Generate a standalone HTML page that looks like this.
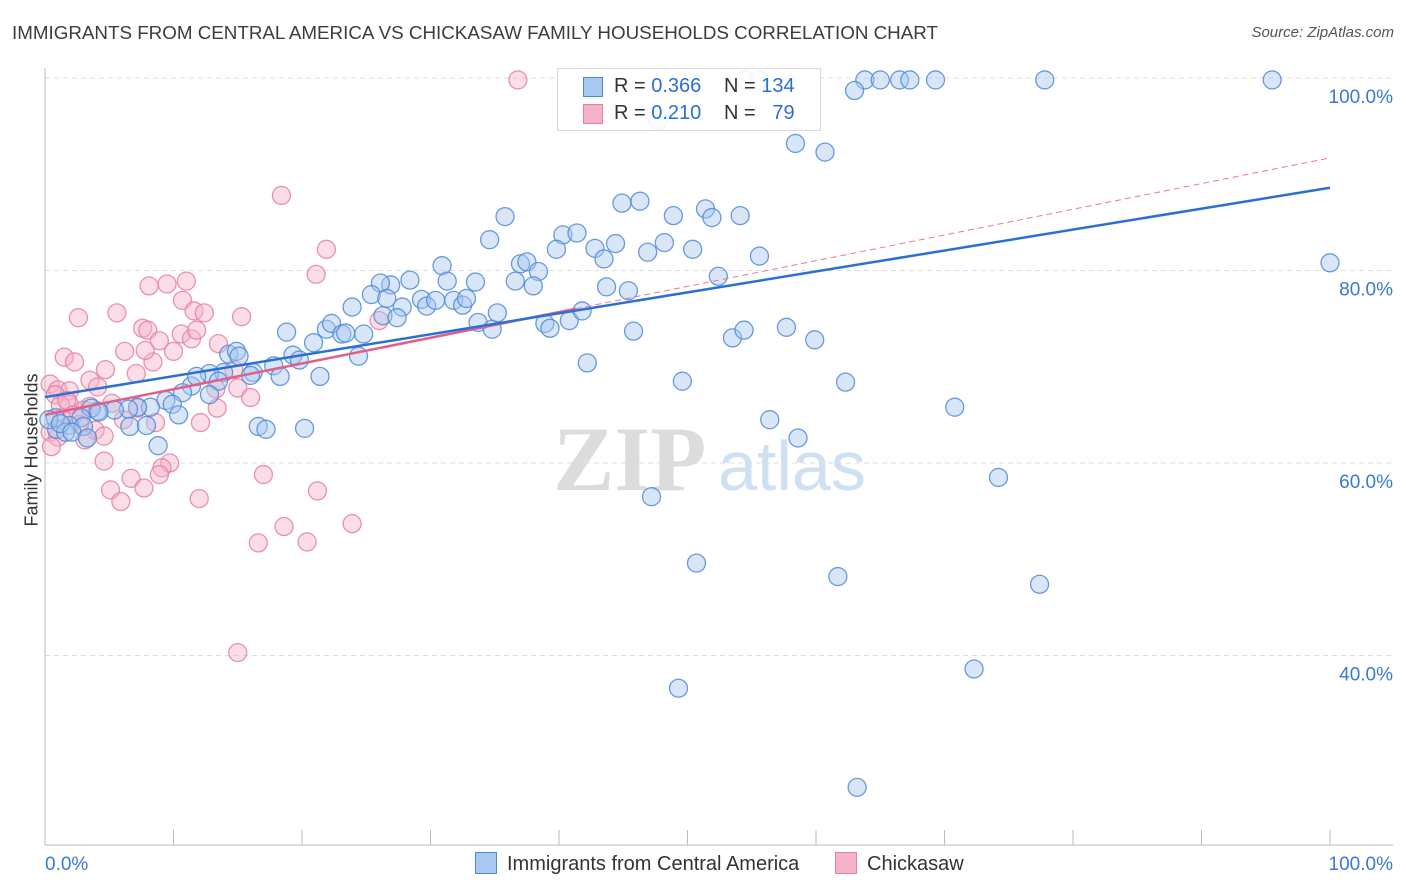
<!DOCTYPE html>
<html><head><meta charset="utf-8">
<style>
body{margin:0;background:#fff;font-family:"Liberation Sans",sans-serif;}
#wrap{position:relative;width:1406px;height:892px;overflow:hidden;}
.t{position:absolute;white-space:nowrap;}
</style></head>
<body>
<div id="wrap">
<div class="t" style="left:12px;top:22px;font-size:18.8px;color:#3c3c3c;">IMMIGRANTS FROM CENTRAL AMERICA VS CHICKASAW FAMILY HOUSEHOLDS CORRELATION CHART</div>
<div class="t" style="right:12px;top:24px;font-size:15px;color:#555;font-style:italic;">Source: ZipAtlas.com</div>
<div class="t" style="left:-38px;top:446px;font-size:18px;color:#333;transform:rotate(-90deg);transform-origin:center;width:140px;text-align:center;">Family Households</div>
<svg id="plot" width="1406" height="892" style="position:absolute;left:0;top:0"></svg>
</div>
<script>
const blueX=[54.5,55.6,63.8,65.0,66.5,67.3,69.3,77.8,95.5,63.0,47.7,58.4,60.7,100,35.8,34.6,40.3,41.4,44.9,46.3,48.9,51.4,51.9,54.1,44.4,42.8,43.5,39.8,48.2,50.4,46.9,55.6,30.9,37.0,37.5,38.4,36.6,38.0,33.5,31.3,28.4,26.9,26.1,25.4,23.9,26.6,27.8,29.3,29.7,30.4,31.8,32.5,32.8,26.3,27.4,33.7,34.8,35.2,38.9,39.3,40.8,41.8,43.7,45.4,52.4,45.8,53.5,54.4,57.7,59.9,42.2,49.6,62.3,70.8,56.4,58.6,74.2,47.2,50.7,61.7,77.4,72.3,49.3,63.2,21.9,22.3,23.1,23.4,24.8,24.4,18.8,20.9,19.3,19.8,17.8,16.2,16.0,18.3,21.4,14.3,14.9,15.1,13.9,12.8,13.5,11.4,11.8,10.7,12.8,9.4,9.9,10.4,8.2,7.2,6.5,5.4,4.1,3.6,4.2,2.8,1.9,0.9,1.6,0.8,0.3,1.2,3.0,2.1,3.3,6.6,7.9,8.8,16.6,17.2,20.2];
const blueY=[99.8,99.8,99.8,99.8,99.8,99.8,99.8,99.8,99.8,98.7,95.6,93.2,92.3,80.8,85.6,83.2,83.7,83.9,87.0,87.2,85.7,86.4,85.5,85.7,82.8,82.3,81.2,82.2,82.9,82.2,81.9,81.5,80.5,80.7,80.9,79.9,78.9,78.4,78.8,78.9,79.0,78.5,78.7,77.5,76.2,77.1,76.2,77.0,76.3,76.9,76.9,76.4,77.1,75.3,75.1,74.6,73.9,75.6,74.5,74.0,74.8,75.8,78.3,77.9,79.4,73.7,73.0,73.8,74.1,72.8,70.4,68.5,68.4,65.8,64.5,62.6,58.5,56.5,49.6,48.2,47.4,38.6,36.6,26.3,73.9,74.5,73.4,73.5,73.4,71.1,73.6,72.5,71.2,70.7,70.1,69.4,69.1,69.0,69.0,71.3,71.6,71.1,69.4,69.3,68.5,68.0,69.0,67.3,67.1,66.5,66.1,65.0,65.8,65.8,65.6,65.5,65.4,65.7,65.3,64.7,63.9,63.5,63.2,64.7,64.5,64.1,63.8,63.2,62.6,63.8,63.9,61.8,63.8,63.5,63.6];
const pinkX=[36.8,18.4,21.9,21.1,11.0,8.1,9.5,10.7,11.6,12.4,15.3,5.6,2.6,7.6,8.0,8.9,10.6,11.4,11.8,13.5,6.2,10.0,8.4,1.5,2.3,4.7,7.1,3.5,0.4,1.0,1.9,4.1,0.8,1.9,1.2,3.0,5.2,7.2,8.6,2.7,3.9,4.6,3.1,0.4,1.0,0.5,14.7,15.0,13.3,13.4,12.1,16.0,9.7,9.1,8.9,6.7,4.6,7.7,5.1,5.9,12.0,17.0,21.2,23.9,18.6,16.6,20.4,15.0,1.7,2.2,3.5,1.3,26.0,6.1,7.8];
const pinkY=[99.8,87.8,82.2,79.6,78.9,78.4,78.6,76.9,75.8,75.6,75.2,75.6,75.1,74.0,73.8,72.7,73.4,72.9,73.8,72.4,71.6,71.6,70.5,71.0,70.5,69.7,69.3,68.6,68.2,67.6,67.5,67.9,67.1,66.1,66.0,65.5,66.2,65.7,64.2,64.0,63.4,62.8,62.4,63.2,62.7,61.7,69.7,67.8,67.7,65.7,64.2,66.8,60.0,59.5,58.8,58.4,60.2,57.4,57.2,56.0,56.3,58.8,57.1,53.7,53.4,51.7,51.8,40.3,66.5,65.0,65.9,64.7,74.8,64.5,71.7];
const blueFit=[66.85,0.2175];
const pinkFit=[65.0,0.267];
const yTicks=[40,60,80,100];
const yTickLabels=["40.0%","60.0%","80.0%","100.0%"];

const NS="http://www.w3.org/2000/svg";
const svg=document.getElementById('plot');
const X0=45,X1=1330;
const sx=v=>X0+(X1-X0)*v/100;
const sy=v=>463-(v-60)*9.625;
function mk(tag,attrs){const e=document.createElementNS(NS,tag);for(const k in attrs)e.setAttribute(k,attrs[k]);svg.appendChild(e);return e;}

let w=mk('text',{x:553,y:490,'font-size':92,'font-family':'Liberation Serif, serif',fill:'#dcdcdc','font-weight':'bold'});w.textContent='ZIP';


let w2=mk('text',{x:718,y:490,'font-size':70,'font-family':'Liberation Sans, sans-serif',fill:'#cfe0f3'});w2.textContent='atlas';



yTicks.forEach((t,i)=>{
  const g=mk('line',{x1:X0,x2:1393,y1:sy(t),y2:sy(t),stroke:'#dddddd','stroke-dasharray':'5,4'});
  
  
  const l=mk('text',{x:1393,y:sy(t)+25,'text-anchor':'end','font-size':19,fill:'#3a78d6'});l.textContent=yTickLabels[i];
  
  
});
let ax=mk('line',{x1:X0,x2:1393,y1:845,y2:845,stroke:'#bbb'});


let ay=mk('line',{x1:X0,x2:X0,y1:68,y2:845,stroke:'#bbb'});


for(let i=0;i<=10;i++){
  const tk=mk('line',{x1:sx(i*10),x2:sx(i*10),y1:830,y2:845,stroke:'#bbb'});
  
  
}
let xl=mk('text',{x:45,y:870,'font-size':19,fill:'#3a78d6'});xl.textContent='0.0%';


let xr=mk('text',{x:1393,y:870,'font-size':19,fill:'#3a78d6','text-anchor':'end'});xr.textContent='100.0%';



function pts(xs,ys,fill,stroke,name){
  xs.forEach((x,i)=>{
    const c=mk('circle',{cx:sx(x),cy:sy(ys[i]),r:9,fill:fill,'fill-opacity':0.45,stroke:stroke,'stroke-width':1.3,'stroke-opacity':0.85});
    
    
  });
}
pts(pinkX,pinkY,'#f4b3c8','#e87fa2','chickasaw-point');
pts(blueX,blueY,'#a9c8f0','#4f8ad8','central-america-point');

let pd=mk('line',{x1:sx(41.3),y1:sy(pinkFit[0]+pinkFit[1]*41.3),x2:sx(100),y2:sy(pinkFit[0]+pinkFit[1]*100),stroke:'#e8789c','stroke-width':1,'stroke-dasharray':'6,4'});


let ps=mk('line',{x1:sx(0),y1:sy(pinkFit[0]),x2:sx(41.3),y2:sy(pinkFit[0]+pinkFit[1]*41.3),stroke:'#e0608a','stroke-width':2.5});


let bl=mk('line',{x1:sx(0),y1:sy(blueFit[0]),x2:sx(100),y2:sy(blueFit[0]+blueFit[1]*100),stroke:'#2a6fd6','stroke-width':2.5});


</script>

<div style="position:absolute;left:557px;top:68px;width:262px;height:61px;border:1px solid #d8d8d8;background:rgba(255,255,255,0.9);font-size:20px;color:#333;">
  <div style="position:absolute;left:25px;top:8px;width:18px;height:18px;background:#a9c8f0;border:1px solid #4f8ad8;"></div>
  <div class="t" style="left:56px;top:6px;">R = <span style="color:#2a6fd6">0.366</span></div>
  <div class="t" style="left:166px;top:6px;">N = <span style="color:#2a6fd6">134</span></div>
  <div style="position:absolute;left:25px;top:35px;width:18px;height:18px;background:#f4b3c8;border:1px solid #e87fa2;"></div>
  <div class="t" style="left:56px;top:33px;">R = <span style="color:#2a6fd6">0.210</span></div>
  <div class="t" style="left:166px;top:33px;">N = &nbsp; <span style="color:#2a6fd6">79</span></div>
</div>
<div style="position:absolute;left:475px;top:852px;font-size:20px;color:#333;">
  <div style="position:absolute;left:0;top:0;white-space:nowrap;"><span style="display:inline-block;width:20px;height:20px;background:#a9c8f0;border:1px solid #4f8ad8;vertical-align:-4px;margin-right:10px;"></span>Immigrants from Central America</div>
  <div style="position:absolute;left:360px;top:0;white-space:nowrap;"><span style="display:inline-block;width:20px;height:20px;background:#f4b3c8;border:1px solid #e87fa2;vertical-align:-4px;margin-right:10px;"></span>Chickasaw</div>
</div>
</body></html>
